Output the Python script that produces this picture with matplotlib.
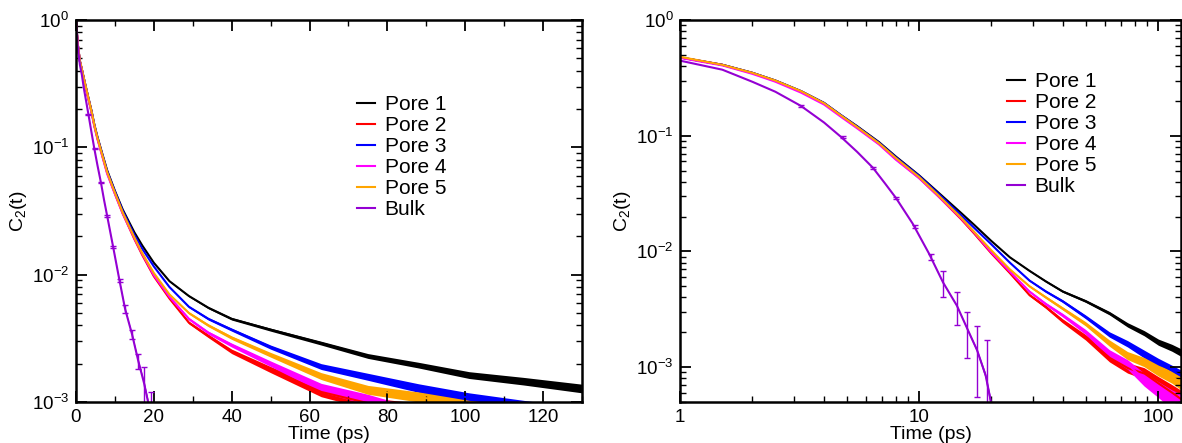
import numpy as np
import matplotlib
matplotlib.use('Agg')
import matplotlib.pyplot as plt
from matplotlib.ticker import MultipleLocator, LogLocator, NullFormatter
from matplotlib.lines import Line2D

plt.rcParams['font.family'] = ['Liberation Sans', 'DejaVu Sans']
plt.rcParams['mathtext.fontset'] = 'custom'
plt.rcParams['mathtext.rm'] = 'Liberation Sans'
plt.rcParams['mathtext.it'] = 'Liberation Sans:italic'
plt.rcParams['font.size'] = 13.5

################################################################
# C2(t)
################################################################
t_pore = [0, 0.25, 0.5, 1, 1.5, 2, 2.5, 3.2, 4, 4.7, 5.5, 6.8, 8, 10, 12, 15, 17,
          20, 24, 29, 34, 40, 50, 63, 75, 88, 101, 115, 130]

pore1 = [1, 0.78, 0.63, 0.475, 0.41, 0.35, 0.30, 0.243, 0.192, 0.151, 0.121, 0.088, 0.066,
         0.0455, 0.0325, 0.0215, 0.0170, 0.0124, 0.0089, 0.0068, 0.0055, 0.0045, 0.0037,
         0.0029, 0.0023, 0.00195, 0.00163, 0.00146, 0.00128]
pore2 = [1, 0.78, 0.63, 0.475, 0.41, 0.348, 0.298, 0.241, 0.190, 0.149, 0.118, 0.085, 0.063,
         0.0432, 0.0302, 0.0190, 0.0143, 0.0097, 0.0065, 0.0042, 0.0033, 0.0025, 0.0018,
         0.0012, 0.00098, 0.00088, 0.00072, 0.0006, 0.0005]
pore3 = [1, 0.78, 0.63, 0.475, 0.41, 0.35, 0.30, 0.243, 0.192, 0.151, 0.120, 0.087, 0.065,
         0.0450, 0.0318, 0.0205, 0.0160, 0.0116, 0.0080, 0.0056, 0.0045, 0.0037, 0.0027,
         0.0019, 0.00158, 0.00129, 0.00108, 0.00093, 0.0008]
pore4 = [1, 0.78, 0.63, 0.47, 0.405, 0.343, 0.293, 0.236, 0.186, 0.146, 0.116, 0.084, 0.062,
         0.0430, 0.0302, 0.0193, 0.0146, 0.0099, 0.0067, 0.0045, 0.0035, 0.0028, 0.0020,
         0.0013, 0.00105, 0.00078, 0.00064, 0.00053, 0.00046]
pore5 = [1, 0.78, 0.63, 0.48, 0.41, 0.35, 0.30, 0.243, 0.191, 0.150, 0.119, 0.086, 0.064,
         0.0440, 0.0308, 0.0196, 0.0148, 0.0103, 0.0070, 0.0050, 0.0040, 0.0032, 0.00235,
         0.0016, 0.00125, 0.0011, 0.00093, 0.00082, 0.0007]

t_bulk = [0, 0.25, 0.5, 1, 1.5, 2, 2.5, 3.2, 4, 4.7, 5.5, 6.4, 7.2, 8, 9.4, 11, 12.6,
          14.4, 16, 17.5, 19, 20]
bulk = [1, 0.76, 0.6, 0.445, 0.372, 0.293, 0.24, 0.181, 0.13, 0.098, 0.0726, 0.053,
        0.0387, 0.029, 0.0174, 0.0096, 0.0054, 0.0034, 0.0021, 0.0014, 0.00085, 0.0005]

# bulk error bars
bulk_err_t = [3.2, 4.8, 6.4, 8.0, 9.6, 11.2, 12.6, 14.4, 15.9, 17.5, 19.3]
bulk_err_c = [0.181, 0.098, 0.053, 0.029, 0.0165, 0.009, 0.0054, 0.0034, 0.0021, 0.0014, 0.0008]
bulk_err_lin = [0.002, 0.001, 0.0006, 0.0004, 0.0003, 0.0003, 0.0004, 0.0003, 0.0003, 0.0005, 0.0004]
bulk_err_log = [0.004, 0.002, 0.0012, 0.0008, 0.0005, 0.0005, 0.0014, 0.0011, 0.0009, 0.00085, 0.0009]

# size of the noise on the long-time tails
noise_pore = 1e-4
noise_bulk = 5e-5

labels = ['Pore 1', 'Pore 2', 'Pore 3', 'Pore 4', 'Pore 5', 'Bulk']
colors = ['black', '#ff0000', '#0000ff', '#ff00ff', '#ffa500', '#9400d3']
pores = [pore1, pore2, pore3, pore4, pore5]

################################################################
W, H = 1182, 443
fig = plt.figure(figsize=(W / 100, H / 100), dpi=100)

ax1 = fig.add_axes([76 / W, 1 - 402 / H, (582 - 76) / W, (402 - 20) / H])
ax2 = fig.add_axes([680.3 / W, 1 - 402 / H, (1181 - 680.3) / W, (402 - 20) / H])


def draw(ax, err):
    for c, col in zip(pores, colors[:5]):
        c = np.array(c)
        ax.fill_between(t_pore, np.maximum(c - noise_pore, 1e-7), c + noise_pore,
                        color=col, lw=0)
        ax.plot(t_pore, c, color=col, lw=1.5)
    b = np.array(bulk)
    ax.fill_between(t_bulk, np.maximum(b - noise_bulk, 1e-7), b + noise_bulk,
                    color=colors[5], lw=0)
    ax.plot(t_bulk, b, color=colors[5], lw=1.5)
    ax.errorbar(bulk_err_t, bulk_err_c, yerr=err, fmt='none', ecolor=colors[5],
                elinewidth=1, capsize=2.5, capthick=1)
    ax.set_yscale('log')
    ax.yaxis.set_major_locator(LogLocator(base=10, numticks=10))
    ax.yaxis.set_minor_locator(LogLocator(base=10, subs=np.arange(2, 10), numticks=10))
    ax.yaxis.set_minor_formatter(NullFormatter())
    ax.tick_params(which='both', direction='in', top=True, right=True, labelsize=13.5)
    ax.tick_params(which='major', length=8, width=1.3, pad=5)
    ax.tick_params(which='minor', length=4, width=1.0)
    for s in ax.spines.values():
        s.set_linewidth(1.8)
    ax.set_xlabel('Time (ps)', fontsize=14, labelpad=0)
    ax.set_ylabel('C$_2$(t)', fontsize=14, labelpad=2)


draw(ax1, bulk_err_lin)
ax1.set_xlim(0, 130)
ax1.set_ylim(1e-3, 1)
ax1.xaxis.set_major_locator(MultipleLocator(20))
ax1.xaxis.set_minor_locator(MultipleLocator(10))

draw(ax2, bulk_err_log)
ax2.set_xscale('log')
ax2.set_xlim(1, 125)
ax2.set_ylim(5e-4, 1)
ax2.xaxis.set_minor_locator(LogLocator(base=10, subs=np.arange(2, 10), numticks=10))
ax2.xaxis.set_minor_formatter(NullFormatter())
ax2.set_xticks([1, 10, 100], ['1', '10', '100'])

handles = [Line2D([], [], color=c, lw=1.5) for c in colors]
for ax, (lx, ly) in [(ax1, (357, 95)), (ax2, (1007, 72))]:
    ax.legend(handles, labels, loc='upper left', bbox_to_anchor=(lx / W, 1 - ly / H),
              bbox_transform=fig.transFigure, frameon=False, borderpad=0,
              borderaxespad=0, handlelength=0.85, handletextpad=0.48,
              labelspacing=0.1, fontsize=15)

fig.savefig('out.png', dpi=100)
